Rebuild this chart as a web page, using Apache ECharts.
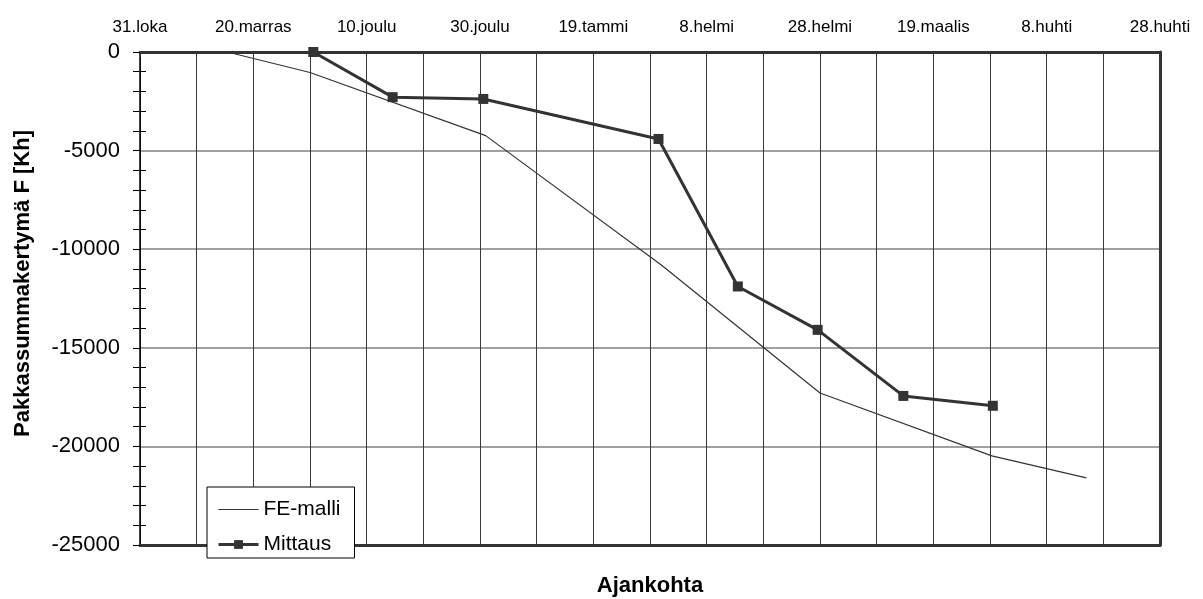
<!DOCTYPE html>
<html>
<head>
<meta charset="utf-8">
<script src="https://cdn.jsdelivr.net/npm/echarts@6/dist/echarts.min.js"></script>
<style>
  html, body { margin: 0; padding: 0; background: #fff; }
  #chart { width: 1203px; height: 599px; }
</style>
</head>
<body>
<div id="chart"></div>
<script>
// Winter 1999-2000: cumulative frost sum, model vs. measurement
const startDate = '1999-10-31';
const dateTickLabels = ['31.loka', '20.marras', '10.joulu', '30.joulu', '19.tammi',
  '8.helmi', '28.helmi', '19.maalis', '8.huhti', '28.huhti'];

const feDates = ['1999-11-15 10:00', '1999-11-30', '1999-12-31', '2000-01-31',
  '2000-02-28', '2000-03-29 08:00', '2000-04-15'];
const feValues = [0, -1040, -4240, -10800, -17290, -20480, -21600];

const mittausDates = ['1999-11-30 14:00', '1999-12-14 14:00', '1999-12-30 14:00',
  '2000-01-30 12:00', '2000-02-13 12:00', '2000-02-27 14:00', '2000-03-13 17:00',
  '2000-03-29 12:00'];
const mittausValues = [0, -2290, -2380, -4410, -11890, -14090, -17440, -17940];

// day offset from the start of the axis (UTC, fractional days)
function dayOffset(s) {
  const [d, t] = s.split(' ');
  const [y, m, dd] = d.split('-').map(Number);
  const [hh, mm] = (t || '00:00').split(':').map(Number);
  const [y0, m0, d0] = startDate.split('-').map(Number);
  return (Date.UTC(y, m - 1, dd, hh, mm) - Date.UTC(y0, m0 - 1, d0)) / 86400000;
}
const pairs = (dates, vals) => dates.map((d, i) => [dayOffset(d), vals[i]]);

const FONT = "'Liberation Sans', Arial, sans-serif";
const DARK = '#333333';

const chart = echarts.init(document.getElementById('chart'), null, { renderer: 'canvas' });

const xBase = { type: 'value', min: 0, max: 180, interval: 10 };
const yBase = { type: 'value', min: -25000, max: 0, interval: 5000 };

chart.setOption({
  animation: false,
  backgroundColor: '#ffffff',
  textStyle: { fontFamily: FONT, color: '#000' },
  grid: { left: 140, right: 43, top: 52, bottom: 54, containLabel: false, outerBoundsMode: 'none' },
  legend: {
    left: 207, top: 487,
    orient: 'vertical',
    backgroundColor: '#ffffff',
    borderColor: '#000000', borderWidth: 1,
    padding: [12, 14, 3, 10],
    itemGap: 14,
    itemWidth: 40, itemHeight: 11,
    textStyle: { fontFamily: FONT, fontSize: 21, color: '#000' },
    data: [
      { name: 'FE-malli', itemStyle: { opacity: 0 }, lineStyle: { width: 1.2 } },
      { name: 'Mittaus', lineStyle: { width: 3 } }
    ]
  },
  xAxis: [
    Object.assign({}, xBase, {
      position: 'top',
      axisLine: { show: true, onZero: false, lineStyle: { color: DARK, width: 3 } },
      axisTick: { show: true, inside: true, length: 5, lineStyle: { color: DARK } },
      axisLabel: {
        margin: 16, fontSize: 17, color: '#000', fontFamily: FONT,
        formatter: v => (v % 20 === 0 ? dateTickLabels[v / 20] : '')
      },
      splitLine: { show: true, lineStyle: { color: '#3a3a3a', width: 1 } }
    }),
    Object.assign({}, xBase, {
      position: 'bottom',
      name: 'Ajankohta',
      nameLocation: 'middle',
      nameGap: 30,
      nameTextStyle: { fontFamily: FONT, fontSize: 22, fontWeight: 'bold', color: '#000' },
      axisLine: { show: true, onZero: false, lineStyle: { color: DARK, width: 3 } },
      axisTick: { show: false },
      axisLabel: { show: false },
      splitLine: { show: false }
    })
  ],
  yAxis: [
    Object.assign({}, yBase, {
      position: 'left',
      name: 'Pakkassummakertymä F [Kh]',
      nameLocation: 'middle',
      nameGap: 106,
      nameTextStyle: { fontFamily: FONT, fontSize: 22, fontWeight: 'bold', color: '#000', padding: [0, 0, 0, 30] },
      axisLine: { show: true, onZero: false, lineStyle: { color: '#000', width: 1.5 } },
      axisTick: { show: true, inside: false, length: 7, lineStyle: { color: '#000', width: 1 } },
      minorTick: { show: true, splitNumber: 5, length: 7, lineStyle: { color: '#000', width: 1 } },
      axisLabel: { margin: 20, fontSize: 22, color: '#000', fontFamily: FONT, formatter: v => String(v) },
      splitLine: { show: true, lineStyle: { color: '#808080', width: 1.5 } }
    }),
    Object.assign({}, yBase, {
      position: 'left',
      axisLine: { show: false },
      axisTick: { show: false, inside: true, length: 6 },
      minorTick: { show: true, splitNumber: 5, length: 6, lineStyle: { color: '#000', width: 1 } },
      axisLabel: { show: false },
      splitLine: { show: false }
    }),
    Object.assign({}, yBase, {
      position: 'right',
      axisLine: { show: true, onZero: false, lineStyle: { color: DARK, width: 3 } },
      axisTick: { show: false },
      axisLabel: { show: false },
      splitLine: { show: false }
    })
  ],
  series: [
    {
      name: 'FE-malli',
      type: 'line',
      xAxisIndex: 0, yAxisIndex: 0,
      data: pairs(feDates, feValues),
      symbol: 'none',
      lineStyle: { color: DARK, width: 1.2 },
      itemStyle: { color: DARK },
      z: 3
    },
    {
      name: 'Mittaus',
      type: 'line',
      xAxisIndex: 0, yAxisIndex: 0,
      data: pairs(mittausDates, mittausValues),
      symbol: 'rect',
      symbolSize: 10,
      lineStyle: { color: DARK, width: 3 },
      itemStyle: { color: DARK, borderWidth: 0 },
      z: 4
    }
  ]
});
</script>
</body>
</html>
